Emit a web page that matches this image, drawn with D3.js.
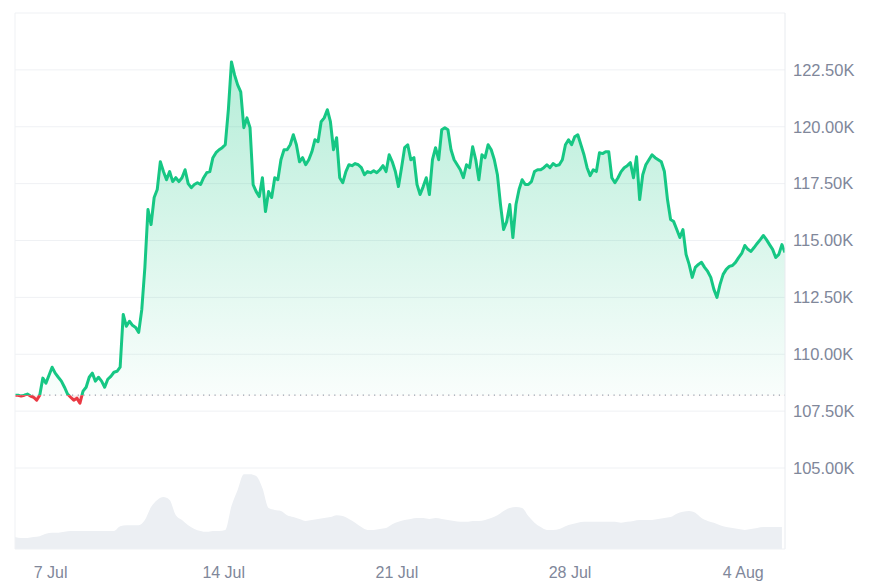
<!DOCTYPE html>
<html>
<head>
<meta charset="utf-8">
<script src="https://cdn.jsdelivr.net/npm/d3@7"></script>
<style>
  html, body { margin: 0; padding: 0; background: #ffffff; }
  svg { display: block; }
  text { font-family: "Liberation Sans", Arial, sans-serif; }
</style>
</head>
<body>
<svg id="chart" width="870" height="584"></svg>
<script>
// ---- data ----
const startTime = Date.UTC(2025, 6, 5, 14);   // first sample
const priceStepHours = 3;
const volumeStepHours = 6;

// BTC price, thousands USD, one sample every 3 hours
const prices = [
  108.20,108.20,108.16,108.20,108.25,108.16,108.11,107.98,108.20,108.95,
  108.73,109.08,109.43,109.17,108.99,108.82,108.55,108.25,108.11,107.98,
  108.07,107.85,108.38,108.55,108.99,109.17,108.82,108.99,108.82,108.55,
  108.90,109.03,109.21,109.25,109.43,111.75,111.23,111.45,111.27,111.18,
  110.96,111.97,113.82,116.36,115.70,116.89,117.24,118.46,118.03,117.67,
  118.03,117.59,117.76,117.59,117.76,118.11,117.50,117.32,117.46,117.54,
  117.46,117.76,117.98,118.03,118.64,118.86,118.99,119.08,119.21,120.75,
  122.85,122.28,121.84,121.53,119.96,120.39,119.96,117.46,117.15,116.93,
  117.76,116.27,117.15,116.89,117.76,117.67,118.55,118.99,118.99,119.21,
  119.65,119.21,118.46,118.64,118.33,118.55,118.90,119.43,119.34,120.22,
  120.39,120.75,120.22,118.99,119.52,117.76,117.54,118.03,118.33,118.29,
  118.38,118.33,118.20,117.89,118.03,117.98,118.07,117.98,118.11,118.29,
  118.03,118.77,118.46,118.03,117.37,118.20,119.08,119.21,118.55,118.64,
  117.46,117.02,117.37,117.76,117.02,118.55,119.08,118.55,119.87,119.96,
  119.87,118.99,118.55,118.33,118.11,117.76,118.33,118.20,119.12,118.55,
  117.67,118.77,118.64,119.21,118.99,118.55,117.89,116.58,115.48,115.83,
  116.58,115.13,116.58,117.24,117.67,117.46,117.46,117.59,118.03,118.11,
  118.11,118.20,118.33,118.20,118.38,118.29,118.33,118.55,119.21,119.43,
  119.21,119.56,119.65,119.21,118.77,118.20,117.85,118.11,118.03,118.86,
  118.82,118.90,118.90,117.76,117.54,117.76,118.03,118.20,118.29,118.42,
  117.76,118.68,116.80,117.89,118.33,118.55,118.77,118.64,118.55,118.46,
  118.03,116.80,115.92,115.83,115.48,115.13,115.48,114.39,113.95,113.38,
  113.82,113.95,114.04,113.82,113.64,113.38,112.85,112.50,113.07,113.51,
  113.73,113.86,113.90,114.04,114.25,114.43,114.78,114.61,114.52,114.69,
  114.87,115.04,115.22,115.04,114.82,114.61,114.25,114.39,114.82,114.47
];

// 24h volume, billions USD, one sample every 6 hours
const volumes = [
  25,23,23,25,27,32,34,34,36,38,
  38,38,38,38,38,38,38,48,50,50,
  50,61,88,103,109,103,71,61,50,42,
  38,36,38,38,40,90,124,157,157,153,
  128,86,82,80,71,67,63,59,61,63,
  65,67,71,69,63,55,46,40,40,42,
  44,52,57,61,63,65,65,63,65,63,
  61,59,57,57,59,59,61,65,71,80,
  86,88,86,69,55,46,40,40,42,48,
  52,55,57,57,57,57,57,57,55,57,
  59,61,61,61,63,65,67,74,78,80,
  76,65,59,55,50,46,44,42,40,42,
  44,46,46,46,46
];

const yTickValues = [105, 107.5, 110, 112.5, 115, 117.5, 120, 122.5];
const xTickDates = [
  Date.UTC(2025, 6, 7), Date.UTC(2025, 6, 14), Date.UTC(2025, 6, 21),
  Date.UTC(2025, 6, 28), Date.UTC(2025, 7, 4)
];

// ---- build ----
const HOUR = 3600 * 1000;
const priceData = prices.map((v, i) => ({ t: new Date(startTime + i * priceStepHours * HOUR), v }));
const volData = volumes.map((v, i) => ({ t: new Date(startTime + i * volumeStepHours * HOUR), v }));
const baseline = prices[0];

const svg = d3.select("#chart");
const L = 15, R = 785, TOP = 13, BOTTOM = 549;

const x = d3.scaleUtc()
  .domain([priceData[0].t, priceData[priceData.length - 1].t])
  .range([L, R]);
const y = d3.scaleLinear().domain([105, 125]).range([468, TOP]);
const yVol = d3.scaleLinear().domain([0, 170]).range([BOTTOM, 468]);

const defs = svg.append("defs");
const grad = defs.append("linearGradient")
  .attr("id", "gfill").attr("gradientUnits", "userSpaceOnUse")
  .attr("x1", 0).attr("x2", 0).attr("y1", y(123)).attr("y2", y(107));
grad.append("stop").attr("offset", "0%").attr("stop-color", "#16c784").attr("stop-opacity", 0.32);
grad.append("stop").attr("offset", "100%").attr("stop-color", "#16c784").attr("stop-opacity", 0.0);

defs.append("clipPath").attr("id", "above")
  .append("rect").attr("x", L).attr("y", 0).attr("width", R - L).attr("height", y(baseline));
defs.append("clipPath").attr("id", "below")
  .append("rect").attr("x", L).attr("y", y(baseline)).attr("width", R - L).attr("height", BOTTOM - y(baseline));

// grid lines
svg.append("g").selectAll("line")
  .data(yTickValues.concat([125]))
  .join("line")
  .attr("x1", L).attr("x2", R)
  .attr("y1", d => y(d)).attr("y2", d => y(d))
  .attr("stroke", "#eff1f4").attr("stroke-width", 1);

// volume
svg.append("path")
  .datum(volData)
  .attr("fill", "#eceff3")
  .attr("d", d3.area().x(d => x(d.t)).y0(BOTTOM).y1(d => yVol(d.v)).curve(d3.curveMonotoneX));

// price area fill
svg.append("path")
  .datum(priceData)
  .attr("clip-path", "url(#above)")
  .attr("fill", "url(#gfill)")
  .attr("d", d3.area().x(d => x(d.t)).y0(y(105)).y1(d => y(d.v)));

svg.append("path")
  .datum(priceData)
  .attr("clip-path", "url(#below)")
  .attr("fill", "#ea3943").attr("fill-opacity", 0.12)
  .attr("d", d3.area().x(d => x(d.t)).y0(y(baseline)).y1(d => y(d.v)));

// baseline dotted
svg.append("line")
  .attr("x1", L).attr("x2", R)
  .attr("y1", y(baseline)).attr("y2", y(baseline))
  .attr("stroke", "#9aa1ad").attr("stroke-width", 1.2)
  .attr("stroke-dasharray", "1.2,4.5");

// price line, green above start price, red below
const line = d3.line().x(d => x(d.t)).y(d => y(d.v));
svg.append("path").datum(priceData)
  .attr("clip-path", "url(#above)")
  .attr("fill", "none").attr("stroke", "#16c784").attr("stroke-width", 3)
  .attr("stroke-linejoin", "round").attr("d", line);
svg.append("path").datum(priceData)
  .attr("clip-path", "url(#below)")
  .attr("fill", "none").attr("stroke", "#ea3943").attr("stroke-width", 3)
  .attr("stroke-linejoin", "round").attr("d", line);

// frame
svg.append("line").attr("x1", L).attr("x2", L).attr("y1", TOP).attr("y2", BOTTOM)
  .attr("stroke", "#eff1f4");
svg.append("line").attr("x1", R).attr("x2", R).attr("y1", TOP).attr("y2", BOTTOM)
  .attr("stroke", "#e8ebef");
svg.append("line").attr("x1", L).attr("x2", R).attr("y1", BOTTOM).attr("y2", BOTTOM)
  .attr("stroke", "#eff1f4");

// y axis (right)
const yAxis = d3.axisRight(y)
  .tickValues(yTickValues)
  .tickSize(0).tickPadding(8)
  .tickFormat(d => d3.format(".2f")(d) + "K");
const gy = svg.append("g").attr("transform", `translate(${R},0)`).call(yAxis);
gy.select(".domain").remove();
gy.selectAll("text").attr("fill", "#80879a").style("font-size", "16.5px");

// x axis (bottom)
const xAxis = d3.axisBottom(x)
  .tickValues(xTickDates.map(d => new Date(d)))
  .tickSize(0).tickPadding(18)
  .tickFormat(d3.utcFormat("%-d %b"));
const gx = svg.append("g").attr("transform", `translate(0,${BOTTOM})`).call(xAxis);
gx.select(".domain").remove();
gx.selectAll("text").attr("fill", "#80879a").style("font-size", "16px");
</script>
</body>
</html>
